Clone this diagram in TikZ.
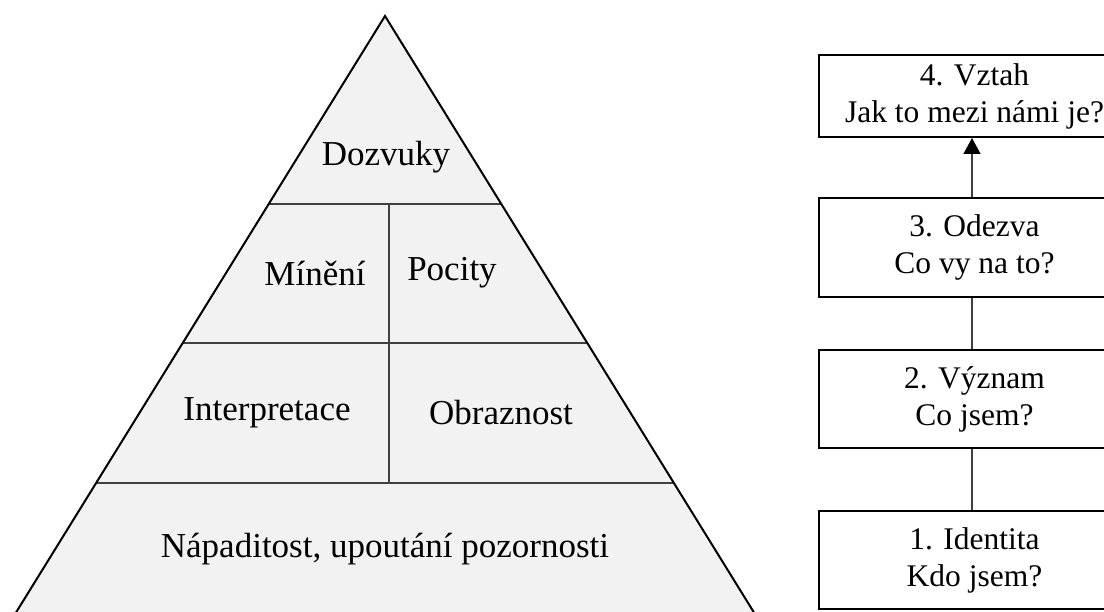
\documentclass[tikz,border=0pt]{standalone}
\usepackage{fontspec}
\setmainfont{Liberation Serif}
\usetikzlibrary{arrows.meta}
\definecolor{pyrfill}{HTML}{F2F2F2}
\definecolor{inner}{HTML}{404040}
\tikzset{
  lbl/.style={font=\fontsize{35}{41}\selectfont, align=center, inner sep=0pt},
  stepbox/.style={draw=black, line width=2pt, fill=white, minimum width=311pt, minimum height=#1, font=\fontsize{31.5}{37}\selectfont, align=center, inner sep=0pt},
  conn/.style={draw=inner, line width=1.3pt}
}
\begin{document}
\begin{tikzpicture}[x=1pt,y=-1pt]
\useasboundingbox (0,0) rectangle (1104,612);
\clip (0,0) rectangle (1104,612);
% pyramid
\coordinate (apex) at (385,16);
\coordinate (bl) at (-1,640);
\coordinate (br) at (771,640);
\fill[pyrfill] (apex) -- (br) -- (bl) -- cycle;
\begin{scope}
  \clip (apex) -- (br) -- (bl) -- cycle;
  \draw[conn] (0,204) -- (800,204);
  \draw[conn] (0,343) -- (800,343);
  \draw[conn] (0,483) -- (800,483);
  \draw[conn] (389,204) -- (389,483);
\end{scope}
\draw[line width=2pt, line join=miter] (bl) -- (apex) -- (br);
\node[lbl] (doz) at (386,157) {Dozvuky};
\node[lbl] (min) at (315,273) {Mínění};
\node[lbl] (poc) at (452,273) {Pocity};
\node[lbl] (int) at (267,413) {Interpretace};
\node[lbl] (obr) at (501,413) {Obraznost};
\node[lbl] (nap) at (385,549) {Nápaditost, upoutání pozornosti};
% boxes
\node[stepbox=82pt] (b4) at (974.5,96) {4. Vztah\\Jak to mezi námi je?};
\node[stepbox=99pt] (b3) at (974.5,247.5) {3. Odezva\\Co vy na to?};
\node[stepbox=98pt] (b2) at (974.5,399) {2. Význam\\Co jsem?};
\node[stepbox=98pt] (b1) at (974.5,560) {1. Identita\\Kdo jsem?};
\draw[conn] ([xshift=-2.5pt]b1.north) -- ([xshift=-2.5pt]b2.south);
\draw[conn] ([xshift=-2.5pt]b2.north) -- ([xshift=-2.5pt]b3.south);
\draw[conn, -{Triangle[length=16pt,width=17pt,fill=black,color=black]}] ([xshift=-2.5pt]b3.north) -- ([xshift=-2.5pt]b4.south);
\end{tikzpicture}
\end{document}
